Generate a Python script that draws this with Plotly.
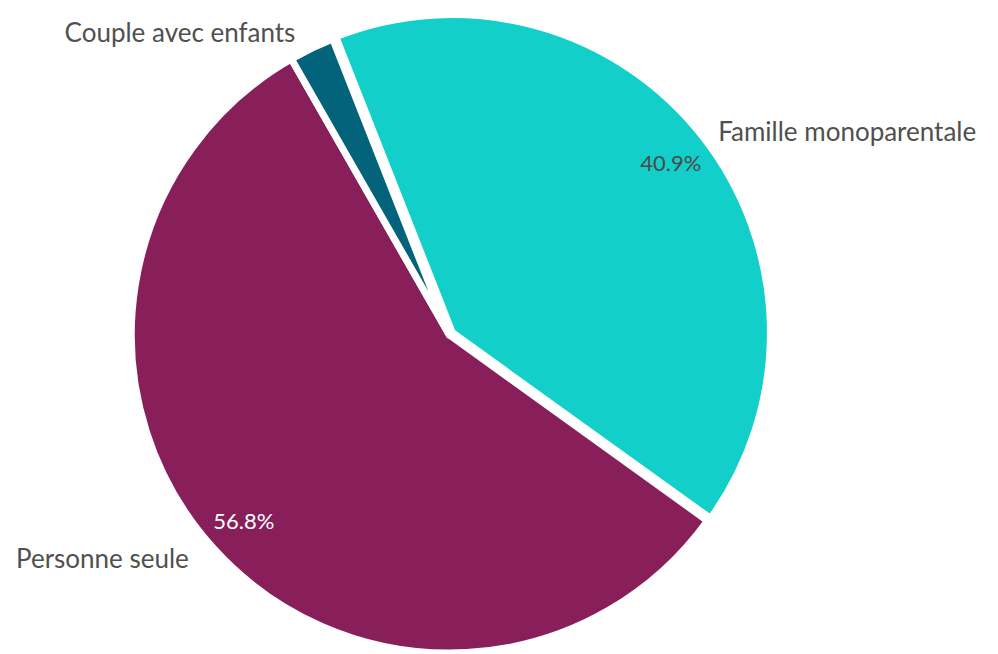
import plotly.graph_objects as go

labels = ["Famille monoparentale", "Personne seule", "Couple avec enfants"]
values = [40.9, 56.8, 2.3]
colors = ["#13CFC9", "#881F5B", "#02637A"]
pulls = [0.012, 0, 0]
pct_text_colors = ["#4a4a4a", "#ffffff", "#ffffff"]
show_pct = [True, True, False]

W, H = 998, 654
OFF = 8  # default page body margin
cx, cy, r = 446 - OFF, 333 - OFF, 321
half = r * (1 + max(pulls))
rl = 325  # radius used for the outside-label layer


def dom(rad):
    return dict(x=[(cx - rad) / W, (cx + rad) / W],
                y=[max(0, (H - cy - rad) / H), min(1, (H - cy + rad) / H)])


pct_templates = ["%{percent:.1%}" if s else "" for s in show_pct]
label_templates = [" %{label}", "%{label}  ", "%{label} "]

common = dict(labels=labels, values=values, sort=False,
              direction="clockwise", rotation=-21.5, showlegend=False)

fig = go.Figure()
fig.add_trace(go.Pie(
    **common, pull=pulls,
    marker=dict(colors=colors, line=dict(color="white", width=7)),
    textinfo="none", domain=dom(half),
    hovertemplate="%{label}: %{percent:.1%}<extra></extra>",
))
fig.add_trace(go.Pie(
    **common, hole=0.74, pull=pulls,
    marker=dict(colors=["rgba(0,0,0,0)"] * 3, line=dict(width=0)),
    texttemplate=pct_templates, textposition="inside", insidetextorientation="horizontal",
    insidetextfont=dict(family="Lato", size=22, color=pct_text_colors),
    domain=dom(half), hoverinfo="skip",
))
fig.add_trace(go.Pie(
    **common,
    marker=dict(colors=["rgba(0,0,0,0)"] * 3, line=dict(width=0)),
    texttemplate=label_templates, textposition="outside",
    outsidetextfont=dict(family="Lato", size=26, color="#505050"),
    domain=dom(rl), hoverinfo="skip",
))
fig.update_layout(
    width=W, height=H, margin=dict(l=0, r=0, t=0, b=0),
    paper_bgcolor="white", plot_bgcolor="white", showlegend=False,
)
fig.write_html("out.html")
